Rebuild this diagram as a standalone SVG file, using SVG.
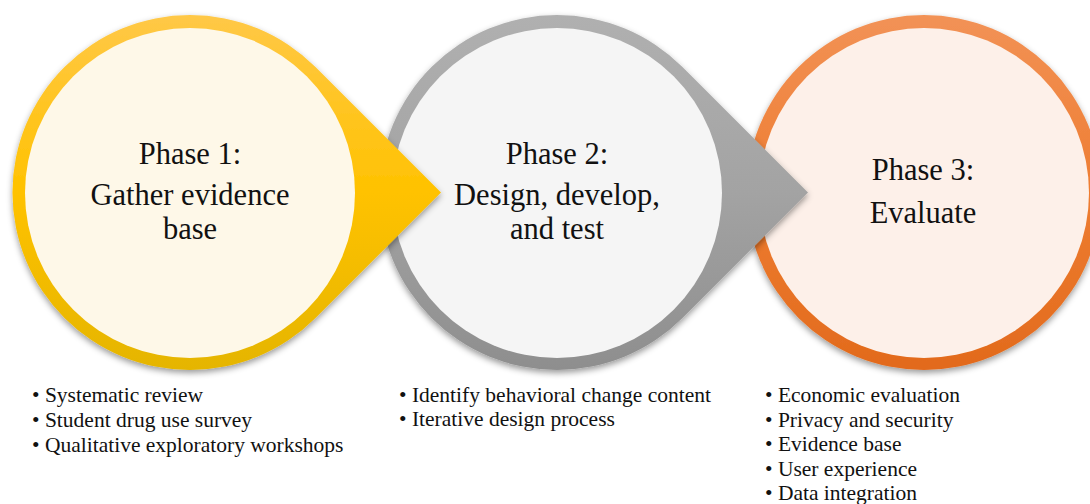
<svg xmlns="http://www.w3.org/2000/svg" width="1090" height="504" viewBox="0 0 1090 504">
  <defs>
    <linearGradient id="gY" x1="0" y1="0" x2="0" y2="1">
      <stop offset="0" stop-color="#FFC847"/>
      <stop offset="0.5" stop-color="#FFC200"/>
      <stop offset="1" stop-color="#E5B500"/>
    </linearGradient>
    <linearGradient id="gG" x1="0" y1="0" x2="0" y2="1">
      <stop offset="0" stop-color="#B0B0B0"/>
      <stop offset="0.5" stop-color="#A3A3A3"/>
      <stop offset="1" stop-color="#8E8E8E"/>
    </linearGradient>
    <linearGradient id="gO" x1="0" y1="0" x2="0" y2="1">
      <stop offset="0" stop-color="#F29256"/>
      <stop offset="0.5" stop-color="#EE7D32"/>
      <stop offset="1" stop-color="#E26A1C"/>
    </linearGradient>
    <filter id="sh" x="-10%" y="-10%" width="130%" height="130%">
      <feDropShadow dx="0" dy="3" stdDeviation="3" flood-color="#000" flood-opacity="0.4"/>
    </filter>
  </defs>
  <style>
    .t { font-family: "Liberation Serif", "Times New Roman", serif; font-size: 30.5px; fill: #111; text-anchor: middle; }
    .b { font-family: "Liberation Serif", "Times New Roman", serif; font-size: 21.5px; fill: #111; }
  </style>
  <rect width="1090" height="504" fill="#FFFFFF"/>

  <g id="phase3">
    <circle cx="924" cy="192.5" r="177.5" fill="url(#gO)" filter="url(#sh)"/>
    <circle cx="924" cy="193" r="165" fill="#FDF0E9"/>
    <text class="t" x="923" y="180">Phase 3:</text>
    <text class="t" x="923" y="223">Evaluate</text>
  </g>

  <g id="phase2">
    <path d="M808,192.5 L682.5,67 A177.5,177.5 0 1 0 682.5,318 Z" fill="url(#gG)" filter="url(#sh)"/>
    <circle cx="557" cy="193" r="165" fill="#F5F5F5"/>
    <text class="t" x="557" y="164">Phase 2:</text>
    <text class="t" x="557" y="205">Design, develop,</text>
    <text class="t" x="557" y="239">and test</text>
  </g>

  <g id="phase1">
    <path d="M441,192.5 L315.5,67 A177.5,177.5 0 1 0 315.5,318 Z" fill="url(#gY)" filter="url(#sh)"/>
    <circle cx="190" cy="193" r="165" fill="#FEF8E8"/>
    <text class="t" x="190" y="164">Phase 1:</text>
    <text class="t" x="190" y="205">Gather evidence</text>
    <text class="t" x="190" y="239">base</text>
  </g>

  <g id="list1">
    <text class="b" x="32" y="402">• Systematic review</text>
    <text class="b" x="32" y="427">• Student drug use survey</text>
    <text class="b" x="32" y="452">• Qualitative exploratory workshops</text>
  </g>
  <g id="list2">
    <text class="b" x="399" y="402">• Identify behavioral change content</text>
    <text class="b" x="399" y="426">• Iterative design process</text>
  </g>
  <g id="list3">
    <text class="b" x="765" y="402">• Economic evaluation</text>
    <text class="b" x="765" y="426.6">• Privacy and security</text>
    <text class="b" x="765" y="451.2">• Evidence base</text>
    <text class="b" x="765" y="475.8">• User experience</text>
    <text class="b" x="765" y="500.4">• Data integration</text>
  </g>
  <g id="connectors"></g>
</svg>
